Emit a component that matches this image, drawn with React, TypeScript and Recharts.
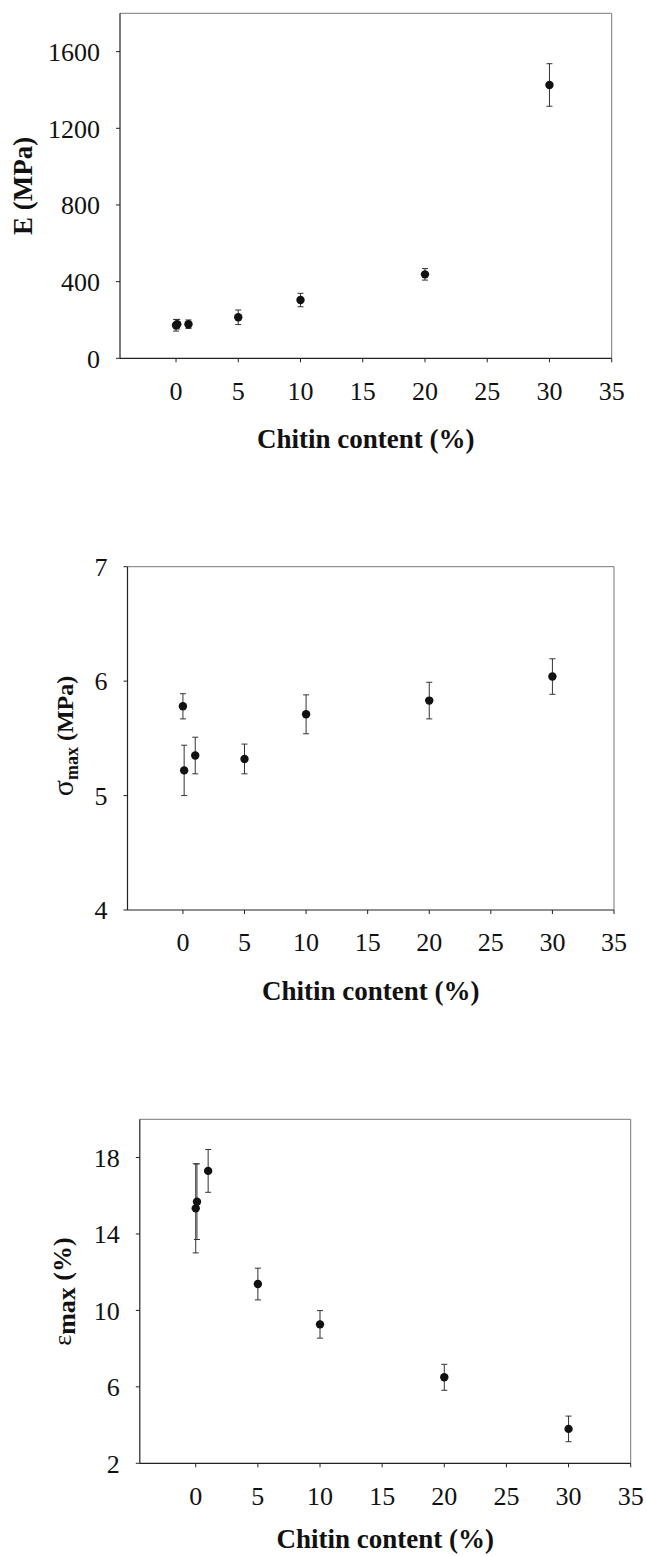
import { ScatterChart, Scatter, XAxis, YAxis, ErrorBar, ReferenceLine } from "recharts";

// chitin content (%) of the films; the two 0 samples sit on top of each other
const chitin = [0, 0.1, 1, 5, 10, 20, 30];

// Young's modulus E (MPa)
const modulus = [172, 178, 178, 214, 304, 438, 1426];
const modulusErr = [30, 25, 22, 38, 35, 30, 111];

// tensile strength sigma max (MPa)
const strength = [5.78, 5.22, 5.35, 5.32, 5.71, 5.83, 6.04];
const strengthErr = [0.11, 0.22, 0.16, 0.13, 0.17, 0.16, 0.155];

// elongation at break epsilon max (%)
const strain = [15.34, 15.69, 17.3, 11.38, 9.27, 6.5, 3.8];
const strainErr = [2.33, 1.98, 1.12, 0.83, 0.72, 0.68, 0.67];

const xTicks = [0, 5, 10, 15, 20, 25, 30, 35];
const modulusTicks = [0, 400, 800, 1200, 1600];
const strengthTicks = [4, 5, 6, 7];
const strainTicks = [2, 6, 10, 14, 18];

const serif = '"Liberation Serif", "Times New Roman", serif';
const W = 647;
const Y_AXIS_W = 60;
const X_AXIS_H = 60;

const Dot = (p: any) => <circle cx={p.cx} cy={p.cy} r={4.2} fill="#111" />;

interface PanelProps {
    top: number;
    height: number;
    box: { left: number; right: number; top: number; bottom: number };
    values: number[];
    errors: number[];
    yDomain: [number, number];
    yTicks: number[];
    yLabel: React.ReactNode;
    titleGap?: number;
}

function Panel({ top, height, box, values, errors, yDomain, yTicks, yLabel, titleGap = 90 }: PanelProps) {
    const rows = chitin.map((x, i) => ({ x, y: values[i], err: errors[i] }));
    const cx = (box.left + box.right) / 2;
    const tick = { fill: "#111", fontSize: 26, fontFamily: serif };

    return (
        <div style={{ position: "absolute", left: 0, top, width: W, height }}>
            <ScatterChart
                width={W}
                height={height}
                margin={{
                    top: box.top,
                    right: W - box.right,
                    left: box.left - Y_AXIS_W,
                    bottom: height - box.bottom - X_AXIS_H,
                }}
            >
                <XAxis
                    type="number"
                    dataKey="x"
                    domain={[-4.5, 35]}
                    ticks={xTicks}
                    interval={0}
                    allowDataOverflow
                    height={X_AXIS_H}
                    tickSize={4}
                    tickMargin={19}
                    tick={tick}
                    axisLine={{ stroke: "#222", strokeWidth: 1.2 }}
                    tickLine={{ stroke: "#222" }}
                />
                <YAxis
                    type="number"
                    dataKey="y"
                    domain={yDomain}
                    ticks={yTicks}
                    interval={0}
                    allowDataOverflow
                    width={Y_AXIS_W}
                    tickSize={4}
                    tickMargin={16}
                    tick={tick}
                    axisLine={{ stroke: "#222", strokeWidth: 1.2 }}
                    tickLine={{ stroke: "#222" }}
                />
                <ReferenceLine y={yDomain[1]} stroke="#777" strokeWidth={1} ifOverflow="visible" />
                <ReferenceLine x={35} stroke="#777" strokeWidth={1} ifOverflow="visible" />
                <Scatter data={rows} shape={Dot} isAnimationActive={false}>
                    <ErrorBar dataKey="err" direction="y" width={3} stroke="#333" strokeWidth={1} />
                </Scatter>
            </ScatterChart>
            <svg
                width={W}
                height={height}
                style={{ position: "absolute", left: 0, top: 0, pointerEvents: "none" }}
                fontFamily={serif}
                fill="#111"
            >
                <text x={cx} y={box.bottom + titleGap} textAnchor="middle" fontSize={27} fontWeight="bold">
                    Chitin content (%)
                </text>
                {yLabel}
            </svg>
        </div>
    );
}

export default function App() {
    return (
        <div style={{ position: "absolute", left: 0, top: 0, width: W, height: 1556, background: "#fff" }}>
            <Panel
                top={0}
                height={470}
                box={{ left: 120, right: 611.7, top: 13.3, bottom: 358.3 }}
                values={modulus}
                errors={modulusErr}
                yDomain={[0, 1800]}
                yTicks={modulusTicks}
                yLabel={
                    <text x={32} y={185.8} transform="rotate(-90 32 185.8)" textAnchor="middle" fontSize={27} fontWeight="bold">
                        E (MPa)
                    </text>
                }
            />
            <Panel
                top={520}
                height={490}
                box={{ left: 127.5, right: 614, top: 46.7, bottom: 390 }}
                values={strength}
                errors={strengthErr}
                yDomain={[4, 7]}
                yTicks={strengthTicks}
                yLabel={
                    <text x={72.5} y={216} transform="rotate(-90 72.5 216)" textAnchor="middle" fontSize={24} fontWeight="bold">
                        <tspan fontSize={30} fontWeight="normal">σ</tspan>
                        <tspan fontSize={18} dy={5}>max</tspan>
                        <tspan dy={-5}> (MPa)</tspan>
                    </text>
                }
            />
            <Panel
                top={1040}
                height={516}
                box={{ left: 139.8, right: 630.7, top: 79.3, bottom: 423.3 }}
                values={strain}
                errors={strainErr}
                yDomain={[2, 20]}
                yTicks={strainTicks}
                titleGap={85}
                yLabel={
                    <text x={71} y={251.5} transform="rotate(-90 71 251.5)" textAnchor="middle" fontSize={26} fontWeight="bold">
                        <tspan fontWeight="normal">ε</tspan>
                        <tspan dy={4}>max</tspan>
                        <tspan dy={-4}> (%)</tspan>
                    </text>
                }
            />
        </div>
    );
}
